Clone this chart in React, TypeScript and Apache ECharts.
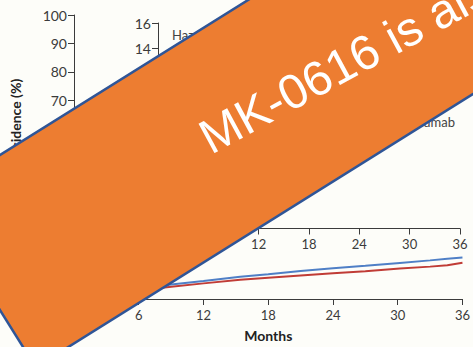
import React, { useEffect, useRef } from "react";
import * as echarts from "echarts";

// Kaplan-Meier style cumulative incidence, read at these follow-up months
const months = [0, 1, 3, 6, 7.2, 9, 12, 15.4, 18, 21, 24, 27, 30.2, 33, 34.6, 36];
const placebo = [0, 0.9, 2.1, 3.7, 4.4, 5.1, 6.3, 7.8, 8.7, 9.9, 10.8, 11.7, 12.7, 13.6, 14.2, 14.6];
const evolocumab = [0, 0.7, 1.7, 3.0, 3.5, 4.3, 5.5, 6.8, 7.5, 8.3, 9.1, 9.8, 10.7, 11.4, 11.9, 12.8];

const mainYMax = 100;
const insetYMax = 16;

const axisTitle = "Cumulative Incidence (%)";
const xTitle = "Months";
const hazardText = "Hazard ratio, 0.85 (95% CI, 0.79–0.92)";
const evoLabel = "Evolocumab";
const bannerText = "MK-0616 is also";

const BLUE = "#4f7fc6";
const RED = "#c03c36";
const AXIS = "#3b3b3b";
const FONT = "Lato, 'Open Sans', sans-serif";

const pairs = (ys: number[]) => months.map((m, i) => [m, ys[i]]);

export default function App() {
  const ref = useRef<HTMLDivElement>(null);

  useEffect(() => {
    if (!ref.current) return;
    const chart = echarts.init(ref.current, undefined, { renderer: "svg" });

    const axisCommon = {
      axisLine: { show: true, lineStyle: { color: AXIS, width: 1 } },
      axisTick: { show: true, length: 6, lineStyle: { color: AXIS, width: 1 } },
      splitLine: { show: false },
    };

    const bannerAngle = (32 * Math.PI) / 180;
    const textAngle = (28.5 * Math.PI) / 180;

    chart.setOption({
      animation: false,
      backgroundColor: "#fdfdf9",
      grid: [
        { left: 68, top: 15, width: 395, height: 290, containLabel: false },
        { left: 158, top: 23, width: 302, height: 205.5, containLabel: false },
      ],
      xAxis: [
        {
          gridIndex: 0,
          type: "value",
          min: 0,
          max: 36,
          interval: 6,
          ...axisCommon,
          axisLabel: { color: AXIS, fontSize: 13, fontFamily: FONT, margin: 9 },
          name: xTitle,
          nameLocation: "middle",
          nameGap: 29,
          nameTextStyle: { color: "#222", fontSize: 14, fontWeight: "bold", fontFamily: FONT },
        },
        {
          gridIndex: 1,
          type: "value",
          min: 0,
          max: 36,
          interval: 6,
          ...axisCommon,
          axisLabel: { color: AXIS, fontSize: 13, fontFamily: FONT, margin: 9 },
        },
      ],
      yAxis: [
        {
          gridIndex: 0,
          type: "value",
          min: 0,
          max: mainYMax,
          interval: 10,
          ...axisCommon,
          axisLabel: { color: AXIS, fontSize: 14, fontFamily: FONT, margin: 7 },
          name: axisTitle,
          nameLocation: "middle",
          nameGap: 52,
          nameTextStyle: { color: "#222", fontSize: 14, fontWeight: "bold", fontFamily: FONT },
        },
        {
          gridIndex: 1,
          type: "value",
          min: 0,
          max: insetYMax,
          interval: 2,
          ...axisCommon,
          axisLabel: { color: AXIS, fontSize: 14, fontFamily: FONT, margin: 7 },
        },
      ],
      series: [
        {
          type: "line",
          name: "Placebo",
          xAxisIndex: 0,
          yAxisIndex: 0,
          data: pairs(placebo),
          showSymbol: false,
          lineStyle: { color: BLUE, width: 2 },
          z: 3,
        },
        {
          type: "line",
          name: "Evolocumab",
          xAxisIndex: 0,
          yAxisIndex: 0,
          data: pairs(evolocumab),
          showSymbol: false,
          lineStyle: { color: RED, width: 2 },
          z: 2,
        },
        {
          type: "line",
          name: "Placebo",
          xAxisIndex: 1,
          yAxisIndex: 1,
          data: pairs(placebo),
          showSymbol: false,
          lineStyle: { color: BLUE, width: 2 },
          z: 3,
        },
        {
          type: "line",
          name: "Evolocumab",
          xAxisIndex: 1,
          yAxisIndex: 1,
          data: pairs(evolocumab),
          showSymbol: false,
          lineStyle: { color: RED, width: 2 },
          z: 2,
        },
      ],
      graphic: [
        {
          type: "text",
          x: 172,
          y: 35,
          z: 10,
          style: {
            text: hazardText,
            font: `13px ${FONT}`,
            fill: "#444",
            verticalAlign: "middle",
            textVerticalAlign: "middle",
          },
        },
        {
          type: "text",
          x: 455,
          y: 122,
          z: 10,
          style: {
            text: evoLabel,
            font: `13px ${FONT}`,
            fill: "#444",
            align: "right",
            textAlign: "right",
            verticalAlign: "middle",
            textVerticalAlign: "middle",
          },
        },
        {
          type: "rect",
          x: -69.7,
          y: 198.6,
          rotation: bannerAngle,
          z: 100,
          shape: { x: 0, y: 0, width: 900, height: 199 },
          style: { fill: "#ed7d31", stroke: "#2f5597", lineWidth: 2.5 },
        },
        {
          type: "text",
          x: 203,
          y: 140,
          rotation: textAngle,
          z: 101,
          style: {
            text: bannerText,
            font: "48.5px 'Liberation Sans', Arial, sans-serif",
            fill: "#ffffff",
            verticalAlign: "middle",
            textVerticalAlign: "middle",
          },
        },
      ],
    });

    return () => chart.dispose();
  }, []);

  return (
    <div
      ref={ref}
      style={{ position: "fixed", left: 0, top: 0, width: 473, height: 347 }}
    />
  );
}
